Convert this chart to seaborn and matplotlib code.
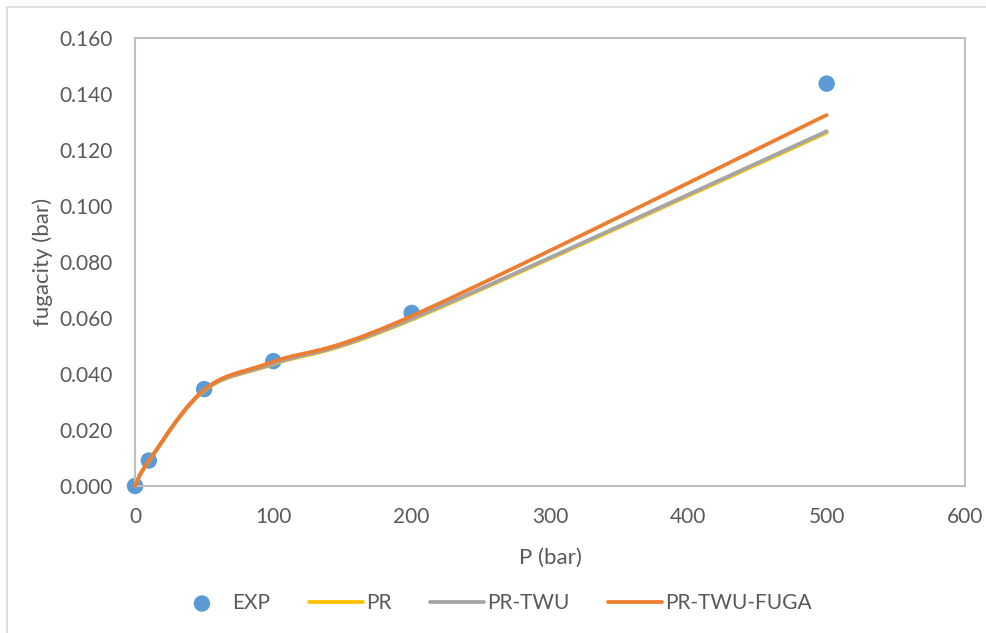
import numpy as np
import pandas as pd
import matplotlib
matplotlib.use("Agg")
import matplotlib.pyplot as plt
import seaborn as sns

# ---- data ----
p_exp = [0, 10, 50, 100, 200, 500]
f_exp = [0.0, 0.0091, 0.0346, 0.0446, 0.0618, 0.1437]

p_model = [0, 10, 50, 100, 200, 500]
f_pr = [0.0, 0.0089, 0.0340, 0.0435, 0.0594, 0.1262]
f_prtwu = [0.0, 0.0089, 0.0341, 0.0437, 0.0597, 0.1267]
f_prtwu_fuga = [0.0, 0.0090, 0.0344, 0.0444, 0.0607, 0.1325]

series_names = ["PR", "PR-TWU", "PR-TWU-FUGA"]
series_colors = ["#FFC000", "#A5A5A5", "#ED7D31"]

xticks = [0, 100, 200, 300, 400, 500, 600]
yticks = [0.0, 0.02, 0.04, 0.06, 0.08, 0.10, 0.12, 0.14, 0.16]

W, H = 987, 633
sns.set_theme(style="white")
plt.rcParams["font.family"] = ["Lato", "DejaVu Sans"]

fig = plt.figure(figsize=(W / 100, H / 100), dpi=100)
L, R, T, B = 135, 965, 38, 486
ax = fig.add_axes([L / W, 1 - B / H, (R - L) / W, (B - T) / H])

XMAX, YMAX = 600, 0.16
axw, axh = R - L, B - T


def smooth(xs, ys, n=40):
    """Excel-like smoothed line (cardinal Bezier) computed in screen space."""
    X = np.array(xs, float) * axw / XMAX
    Y = np.array(ys, float) * axh / YMAX
    P = np.column_stack([X, Y])
    out = []
    m = len(P)
    for i in range(m - 1):
        p0 = P[i - 1] if i > 0 else P[i]
        p1, p2 = P[i], P[i + 1]
        p3 = P[i + 2] if i + 2 < m else P[i + 1]
        c1 = p1 + (p2 - p0) / 6.0
        c2 = p2 - (p3 - p1) / 6.0
        t = np.linspace(0, 1, n)[:, None]
        seg = ((1 - t) ** 3) * p1 + 3 * ((1 - t) ** 2) * t * c1 + 3 * (1 - t) * t ** 2 * c2 + t ** 3 * p2
        out.append(seg if i == 0 else seg[1:])
    S = np.vstack(out)
    return S[:, 0] * XMAX / axw, S[:, 1] * YMAX / axh


df_exp = pd.DataFrame({"P": p_exp, "f": f_exp})
sns.scatterplot(data=df_exp, x="P", y="f", ax=ax, color="#5B9BD5", s=140,
                edgecolor="none", zorder=2, label="EXP", clip_on=False)

for name, vals, col in zip(series_names, [f_pr, f_prtwu, f_prtwu_fuga], series_colors):
    sx, sy = smooth(p_model, vals)
    sns.lineplot(x=sx, y=sy, sort=False, estimator=None, ax=ax, color=col,
                 linewidth=2.7, label=name, zorder=3, clip_on=False,
                 solid_capstyle="round")

ax.set_xlim(0, XMAX)
ax.set_ylim(0, YMAX)
ax.set_xticks(xticks)
ax.set_yticks(yticks)
ax.set_xticklabels([str(v) for v in xticks])
ax.set_yticklabels([f"{v:.3f}" for v in yticks])
tc = "#595959"
ax.tick_params(axis="both", length=0, labelsize=15, colors=tc)
ax.tick_params(axis="y", pad=16)
ax.tick_params(axis="x", pad=15)
for s in ax.spines.values():
    s.set_color("#BFBFBF")
    s.set_linewidth(1.5)
ax.grid(False)

ax.set_xlabel("P (bar)", fontsize=16, color=tc)
ax.set_ylabel("fugacity (bar)", fontsize=16, color=tc)
ax.xaxis.set_label_coords(0.5, (B - 548) / axh, transform=ax.transAxes)
ax.yaxis.set_label_coords((53 - L) / axw, 0.5, transform=ax.transAxes)

handles, labels = ax.get_legend_handles_labels()
ax.legend(handles, labels, loc="center", bbox_to_anchor=(0.5, 1 - 603 / H),
          bbox_transform=fig.transFigure, ncol=4, frameon=False, fontsize=15,
          handlelength=2.6, columnspacing=1.85, handletextpad=0.15, labelcolor=tc)

# outer chart border (Excel chart area)
fig.patches.append(plt.Rectangle((7 / W, -0.05), 1.1, 1 - 7 / H + 0.05, transform=fig.transFigure,
                                 fill=False, edgecolor="#D9D9D9", linewidth=1.2))

fig.savefig("out.png", dpi=100, facecolor="white")
